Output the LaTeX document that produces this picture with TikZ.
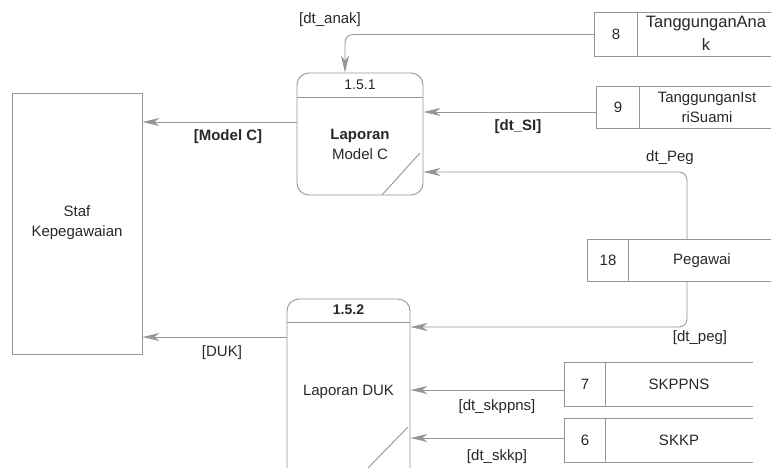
\documentclass[tikz,border=0pt]{standalone}
\usepackage{fontspec}
\setmainfont{Liberation Sans}
\usetikzlibrary{arrows.meta}
\definecolor{linegray}{RGB}{150,150,150}
\definecolor{textgray}{RGB}{40,40,40}
\begin{document}
\begin{tikzpicture}[x=1pt,y=-1pt,
  line/.style={draw=linegray, line width=0.9pt},
  flow/.style={line, rounded corners=8pt, -{Stealth[length=17pt,width=8pt,inset=5pt,fill=linegray]}},
  txt/.style={text=textgray, font=\fontsize{15}{20}\selectfont, align=center, inner sep=0pt},
  lbl/.style={txt},
  cell/.style={inner sep=0pt, draw=none},
  procbox/.style={line, rounded corners=12pt, inner sep=0pt},
]
\useasboundingbox (0,0) rectangle (771,467);
\fill[white] (0,0) rectangle (771,467);
\clip (0,0) rectangle (771,467);

% external entity
\node[line, minimum width=130pt, minimum height=261pt, inner sep=0pt] (staf) at (77,223.5) {};
\node[txt] (staftxt) at (77,223) {Staf\\Kepegawaian};

% process 1.5.1
\node[procbox, minimum width=126pt, minimum height=122pt] (p1) at (360,134) {};
\draw[line] (297,97) -- (423,97);
\node[txt, font=\fontsize{14}{18}\selectfont] (p1id) at (360,85) {1.5.1};
\node[txt] (p1txt) at (360,144) {\textbf{Laporan}\\Model C};
\draw[line] (420,153) -- (382,195);

% process 1.5.2
\node[procbox, minimum width=123pt, minimum height=181pt] (p2) at (348.5,389.5) {};
\draw[line] (287,322) -- (410,322);
\node[txt, font=\bfseries\fontsize{14}{18}\selectfont] (p2id) at (348.5,310) {1.5.2};
\node[txt] (p2txt) at (348.5,392) {Laporan DUK};
\draw[line] (408,427) -- (366,470);

% data store 8
\node[cell, minimum width=42pt, minimum height=43pt] (n8) at (616,34.5) {};
\node[cell, minimum width=138pt, minimum height=43pt] (s8) at (706,34.5) {};
\draw[line] (n8.north east) -- (n8.south east);
\draw[line] (s8.north east) -- (n8.north west) -- (n8.south west) -- (s8.south east);
\node[txt] at (n8.center) {8};
\node[txt, font=\fontsize{16.5}{23}\selectfont] at (706,33) {TanggunganAna\\k};

% data store 9
\node[cell, minimum width=42pt, minimum height=41pt] (n9) at (618,107.5) {};
\node[cell, minimum width=138pt, minimum height=41pt] (s9) at (708,107.5) {};
\draw[line] (n9.north east) -- (n9.south east);
\draw[line] (s9.north east) -- (n9.north west) -- (n9.south west) -- (s9.south east);
\node[txt] at (n9.center) {9};
\node[txt, font=\fontsize{15}{20}\selectfont] at (707,107) {TanggunganIst\\riSuami};

% data store 18
\node[cell, minimum width=40pt, minimum height=41pt] (n18) at (608,260.5) {};
\node[cell, minimum width=148pt, minimum height=41pt] (s18) at (702,260.5) {};
\draw[line] (n18.north east) -- (n18.south east);
\draw[line] (s18.north east) -- (n18.north west) -- (n18.south west) -- (s18.south east);
\node[txt] at (n18.center) {18};
\node[txt] at (s18.center) {Pegawai};
\coordinate (c18) at (687,260.5);

% data store 7
\node[cell, minimum width=40pt, minimum height=43pt] (n7) at (585,384.5) {};
\node[cell, minimum width=148pt, minimum height=43pt] (s7) at (679,384.5) {};
\draw[line] (n7.north east) -- (n7.south east);
\draw[line] (s7.north east) -- (n7.north west) -- (n7.south west) -- (s7.south east);
\node[txt] at (n7.center) {7};
\node[txt] at (s7.center) {SKPPNS};

% data store 6
\node[cell, minimum width=40pt, minimum height=43pt] (n6) at (585,440.5) {};
\node[cell, minimum width=148pt, minimum height=43pt] (s6) at (679,440.5) {};
\draw[line] (n6.north east) -- (n6.south east);
\draw[line] (s6.north east) -- (n6.north west) -- (n6.south west) -- (s6.south east);
\node[txt] at (n6.center) {6};
\node[txt] at (s6.center) {SKKP};

% flows
\draw[flow] (n8.west) -| ([xshift=-15pt]p1.north);
\node[lbl] at (330,20) {[dt\_anak]};

\draw[flow] ([yshift=-4.5pt]n9.west) -- ([yshift=-4.5pt]n9.west -| p1.east);
\node[lbl, font=\bfseries\fontsize{15}{20}\selectfont] at (518,127) {[dt\_SI]};

\draw[flow] (c18 |- n18.north) |- (p1.east |- 0,172);
\node[lbl] at (670,158) {dt\_Peg};

\draw[flow] (c18 |- n18.south) |- (p2.east |- 0,327);
\node[lbl] at (700,338) {[dt\_peg]};

\draw[flow] (n7.west |- 0,390) -- (p2.east |- 0,390);
\node[lbl] at (497,407) {[dt\_skppns]};

\draw[flow] (n6.west |- 0,438) -- (p2.east |- 0,438);
\node[lbl] at (497,457) {[dt\_skkp]};

\draw[flow] (p1.west |- 0,122) -- (staf.east |- 0,122);
\node[lbl, font=\bfseries\fontsize{15}{20}\selectfont] at (228,137) {[Model C]};

\draw[flow] (p2.west |- 0,337) -- (staf.east |- 0,337);
\node[lbl] at (222,353) {[DUK]};
\end{tikzpicture}
\end{document}
